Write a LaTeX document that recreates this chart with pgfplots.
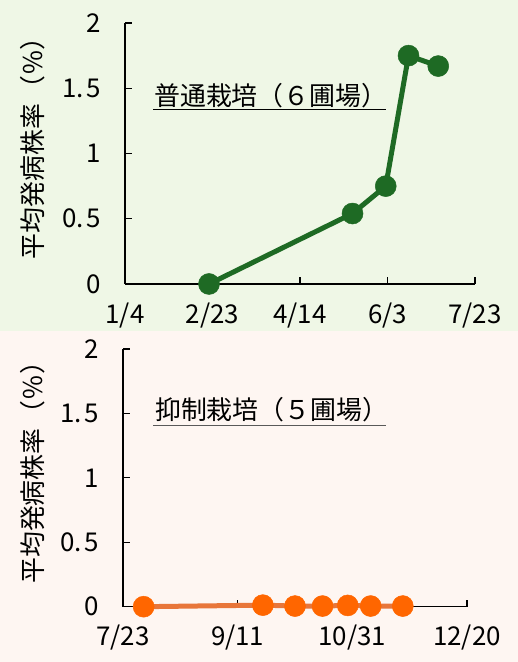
\documentclass[border=0pt]{standalone}
\usepackage{pgfplots}
\pgfplotsset{compat=1.18}
\usepackage{fontspec}
\setmainfont{Noto Sans CJK JP}
\definecolor{bgg}{RGB}{239,247,230}
\definecolor{bgp}{RGB}{254,246,242}
\definecolor{dgreen}{RGB}{30,106,36}
\definecolor{orgm}{RGB}{255,102,0}
\definecolor{orgl}{RGB}{232,118,58}
\newcommand{\bigf}{\fontsize{26}{30}\selectfont}
\begin{document}
\begin{tikzpicture}
\fill[bgp] (0,0) rectangle (518bp,331bp);
\fill[bgg] (0,331bp) rectangle (518bp,662bp);
\useasboundingbox (0,0) rectangle (518bp,662bp);
\pgfplotsset{myax/.style={scale only axis, clip=false,
  axis x line*=bottom, axis y line*=left, tick align=inside,
  major tick length=7bp,
  axis line style={line width=1.3bp, black},
  every tick/.style={line width=1.3bp, black},
  ymin=0, ymax=2, ytick={0,0.5,1,1.5,2},
  yticklabels={0,0.\hspace{2bp}5,1,1.\hspace{2bp}5,2},
  tick label style={font=\bigf},
  xticklabel style={yshift=-15bp},
  yticklabel style={xshift=-21bp},
  ylabel={平均発病株率\hspace{2bp}（\hspace{1bp}\%\hspace{1bp}）},
  ylabel style={font=\bigf, at={(rel axis cs:-0.263,0.545)}, rotate=0, anchor=center},
}}
\begin{axis}[myax, at={(125bp,378bp)}, anchor=south west, width=350bp, height=261bp,
  xmin=0, xmax=200, xtick={0,50,100,150,200}, xticklabels={1/4,2/23,4/14,6/3,7/23}]
\addplot[dgreen, line width=5bp, mark=*, mark size=10.5bp, mark options={solid, fill=dgreen, draw=dgreen, line width=0.5bp}]
  coordinates {(48,0) (130,0.54) (149,0.75) (162,1.75) (179,1.67)};
\node[anchor=base west, font=\bigf, inner sep=0pt] at (rel axis cs:0.083,0.682) {普通栽培（６圃場）};
\draw[line width=1bp, black] (rel axis cs:0.08,0.667) -- (rel axis cs:0.746,0.667);
\end{axis}
\begin{axis}[myax, at={(123bp,55.3bp)}, anchor=south west, width=344bp, height=257.7bp,
  xmin=0, xmax=150, xtick={0,50,100,150}, xticklabels={7/23,9/11,10/31,12/20}]
\addplot[orgl, line width=5bp, mark=*, mark size=10.5bp, mark options={solid, fill=orgm, draw=orgm, line width=0.5bp}]
  coordinates {(9,0) (61,0.012) (75,0.005) (87,0.005) (98,0.01) (108,0.005) (122,0.005)};
\node[anchor=base west, font=\bigf, inner sep=0pt] at (rel axis cs:0.093,0.725) {抑制栽培（５圃場）};
\draw[line width=1bp, black!65] (rel axis cs:0.088,0.705) -- (rel axis cs:0.765,0.705);
\end{axis}
\end{tikzpicture}
\end{document}
